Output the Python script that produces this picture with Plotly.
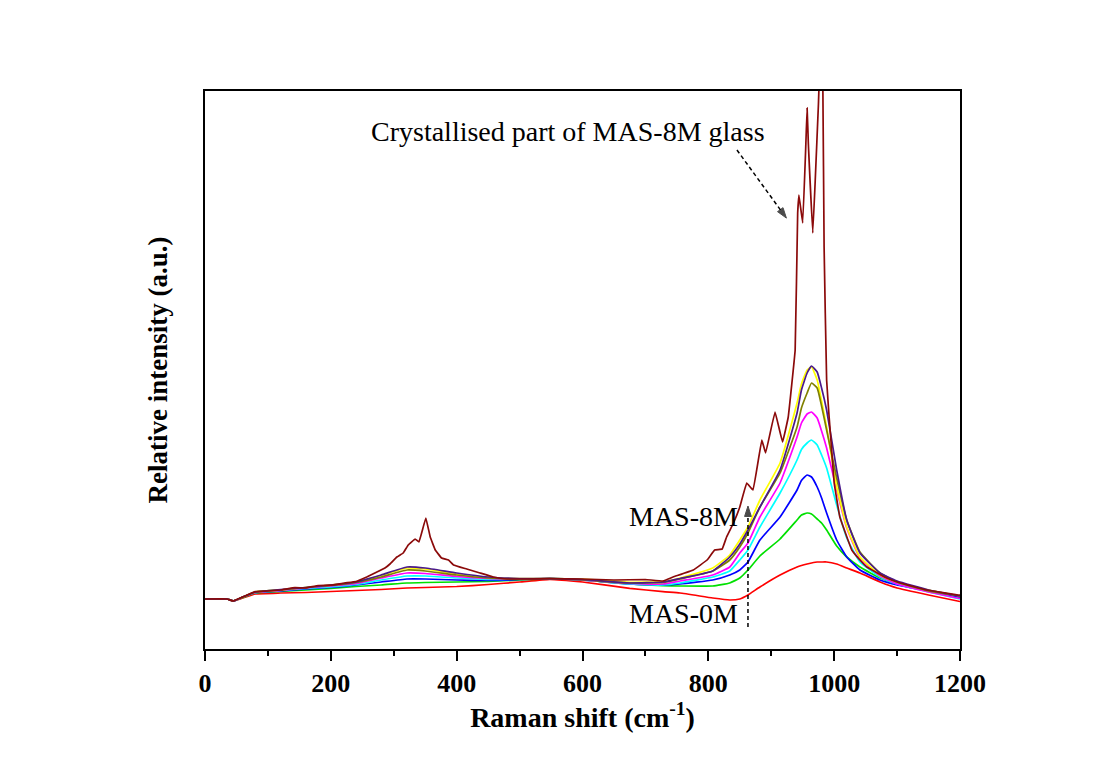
import plotly.graph_objects as go

# Raman shift grid (cm-1) shared by the MAS-0M ... MAS-7M spectra
shift = [0, 35, 45, 60, 80, 120, 160, 200, 240, 280, 321, 350, 400, 450, 500, 548,
         600, 675, 728, 755, 807, 834, 850, 863, 882, 914, 941, 948, 957, 964, 973,
         980, 988, 1004, 1020, 1041, 1073, 1100, 1150, 1200]

mas_red = [50, 50, 48, 51, 55, 56, 56.5, 57.5, 58.5, 59.5, 61, 61.5, 62.5, 64.5, 67, 69.7,
           67, 60.7, 57.3, 56, 51, 49, 50, 54, 62, 74, 82, 83.5, 85, 86, 87,
           87, 87, 85, 81, 76, 67, 61, 54, 47.5]
mas_green = [50, 50, 48, 51.5, 56, 57.5, 59, 60.5, 62.5, 64, 66, 66.5, 67, 67.5, 69, 70.3,
             69, 65, 63.3, 63, 63, 66, 71, 79, 93, 110, 129, 134, 136, 135, 130,
             126, 119, 103, 92, 82, 71, 65, 58, 51.5]
mas_blue = [50, 50, 48, 52, 56.5, 58, 60, 61.5, 64, 67, 70, 70, 69, 68.5, 69.5, 70.3,
            69, 65, 64, 65, 69, 74, 79, 87, 109, 132, 159, 168.5, 174, 172, 162,
            151, 136, 109, 92, 79, 69, 64, 58, 52]
mas_cyan = [50, 50, 48, 52, 56.5, 58.5, 60.5, 62, 64.5, 69, 73, 73, 71, 69.5, 70, 70.3,
            69, 65, 64, 66, 72, 78, 89, 99, 122, 156, 189, 199.5, 206, 209, 204,
            194, 181, 144, 111, 87, 72, 65, 57, 50]
mas_magenta = [50, 50, 48, 52, 56.5, 58.5, 61, 63, 65.5, 71, 76, 75.5, 72.5, 70.5, 70, 70.3,
               69, 65.5, 65, 68, 74, 82, 96, 106, 132, 166, 212, 226, 235, 237, 231,
               218, 201, 159, 121, 91, 73, 65, 57, 50.5]
mas_yellow = [50, 50, 48, 52, 57, 59, 61.5, 64, 67, 73.5, 81, 80, 75, 71.5, 70.5, 70.5,
              70, 66.7, 67.3, 71, 81, 94, 109, 122, 149, 186, 246, 265, 279, 282, 269,
              248, 222, 162, 122, 92, 74, 67, 59, 53]
mas_olive = [50, 50, 48, 52, 57, 59, 61.5, 63.5, 66.5, 72, 79, 78, 74, 71, 70, 70.3,
             69, 66, 66.5, 70, 78, 89, 102, 116, 142, 176, 222, 241, 256, 266, 261,
             243, 219, 171, 129, 97, 76, 67, 58, 53]
mas_purple = [50, 50, 48, 52, 57, 59.5, 61.5, 64, 67, 74, 82, 81, 76, 72, 70.5, 70.3,
              69.5, 66, 67, 70.5, 78, 92, 105, 119, 142, 179, 236, 259, 276, 283, 277,
              261, 239, 179, 129, 96, 76, 68, 59, 53]

# MAS-8M (partly crystallised) spectrum, sampled on its own grid
shift_8m = [0, 35, 45, 60, 80, 100, 120, 143, 160, 180, 200, 222, 240, 257, 270, 286, 294,
            305, 315, 323, 334, 340, 351, 358, 366, 376, 387, 395, 416, 437, 458, 480,
            548, 600, 650, 700, 728, 744, 776, 798, 810, 822, 829, 840, 850, 861, 871,
            885, 891, 906, 918, 927, 938, 942, 944, 950, 955, 957, 959, 966, 970, 975,
            979, 982, 984, 988, 992, 996, 1000, 1009, 1028, 1041, 1052, 1080, 1105,
            1147, 1197, 1200]
mas_8m = [50, 50, 48, 52, 57.3, 58, 59, 61.3, 61, 63.5, 63.8, 66, 67.5, 72, 76, 81, 85,
          92, 96, 104, 110, 107, 131, 112, 99, 91, 89, 84, 80, 76, 72, 70,
          70.3, 70, 69, 69.5, 68, 72, 79, 89, 99, 100, 112, 126, 142, 166, 159,
          209, 196, 237, 207, 232, 299, 436, 454, 426, 505, 541, 505, 416, 470, 545,
          620, 564, 402, 269, 232, 199, 166, 132, 99, 89, 82, 72, 66,
          59, 54, 54]

series = [
    ("MAS-0M", mas_red, "#ff0000"),
    ("MAS-1M", mas_green, "#00e000"),
    ("MAS-2M", mas_blue, "#0000ff"),
    ("MAS-3M", mas_cyan, "#00ffff"),
    ("MAS-4M", mas_magenta, "#ff00ff"),
    ("MAS-5M", mas_yellow, "#ffff00"),
    ("MAS-6M", mas_olive, "#808000"),
    ("MAS-7M", mas_purple, "#4a1a8c"),
]

fig = go.Figure()
for name, vals, col in series:
    fig.add_trace(go.Scatter(x=shift, y=vals, mode="lines", name=name,
                             line=dict(color=col, width=1.7, shape="spline", smoothing=0.4)))
fig.add_trace(go.Scatter(x=shift_8m, y=mas_8m, mode="lines", name="MAS-8M",
                         line=dict(color="#8b0a0a", width=1.7, shape="spline", smoothing=0.2)))

serif = "Liberation Serif, Times New Roman, serif"

# dashed arrows (arrowhead markers oriented along the segment)
arrow_marker = dict(symbol=["circle", "arrow"], size=[0, 11], angleref="previous",
                    color="black", line=dict(width=1, color="black"))
fig.add_trace(go.Scatter(x=[863, 863], y=[22, 143], mode="lines+markers",
                         line=dict(color="black", width=1.5, dash="4px,3px"),
                         marker=arrow_marker, hoverinfo="skip"))
fig.add_trace(go.Scatter(x=[845.5, 924.1], y=[499, 430.9], mode="lines+markers",
                         line=dict(color="black", width=1.5, dash="4px,3px"),
                         marker=arrow_marker, hoverinfo="skip"))

# labels
fig.add_annotation(x=577, y=518, xref="x", yref="y", text="Crystallised part of MAS-8M glass",
                   showarrow=False, font=dict(family=serif, size=28, color="black"))
fig.add_annotation(x=850, y=133, xref="x", yref="y", text="MAS-8M", xanchor="right",
                   showarrow=False, font=dict(family=serif, size=28, color="black"))
fig.add_annotation(x=850, y=36, xref="x", yref="y", text="MAS-0M", xanchor="right",
                   showarrow=False, font=dict(family=serif, size=28, color="black"))

fig.update_layout(
    width=1103, height=771, autosize=False,
    margin=dict(l=205, r=143, t=91, b=122),
    paper_bgcolor="white", plot_bgcolor="white",
    showlegend=False,
    font=dict(family=serif, color="black"),
    xaxis=dict(range=[0, 1200], showgrid=False, zeroline=False,
               showline=True, linecolor="black", linewidth=2, mirror=True,
               ticks="outside", ticklen=10, tickwidth=2, tickcolor="black",
               tickvals=[0, 200, 400, 600, 800, 1000, 1200],
               ticktext=["<b>0</b>", "<b>200</b>", "<b>400</b>", "<b>600</b>",
                         "<b>800</b>", "<b>1000</b>", "<b>1200</b>"],
               tickfont=dict(family=serif, size=26, color="black"),
               minor=dict(dtick=100, ticks="outside", ticklen=5, tickwidth=2,
                          tickcolor="black", showgrid=False),
               title=dict(text="<b>Raman shift (cm<sup>-1</sup>)</b>",
                          font=dict(family=serif, size=28, color="black"), standoff=8)),
    yaxis=dict(range=[0, 558], showgrid=False, zeroline=False,
               showline=True, linecolor="black", linewidth=2, mirror=True,
               ticks="", showticklabels=False,
               title=dict(text="<b>Relative intensity (a.u.)</b>",
                          font=dict(family=serif, size=27, color="black"), standoff=28)),
)

fig.write_html("out.html")
